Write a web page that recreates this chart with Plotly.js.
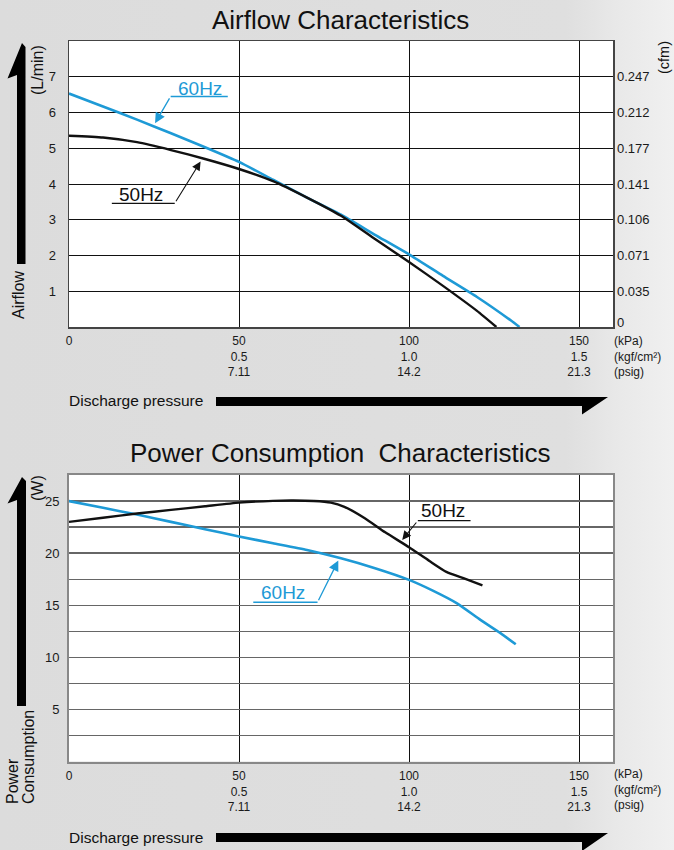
<!DOCTYPE html>
<html><head><meta charset="utf-8">
<script src="https://cdn.plot.ly/plotly-3.0.1.min.js"></script>
<style>
html,body{margin:0;padding:0;width:674px;height:850px;overflow:hidden;
background:linear-gradient(90deg,#dcdcdc 0%,#dfdfdf 84%,#e9e9e9 92%,#f0f0f0 100%);}
#chart{width:674px;height:850px;}
</style>
</head><body><div id="chart"></div><script>
// ---- data ----
const pressureTicks = [0, 50, 100, 150];
const pressureTickText = ["0", "50<br>0.5<br>7.11", "100<br>1.0<br>14.2", "150<br>1.5<br>21.3"];
const pressureUnits = "(kPa)<br>(kgf/cm²)<br>(psig)";

const airflowTicks = [1, 2, 3, 4, 5, 6, 7];
const cfmTicks = [0.12, 1, 2, 3, 4, 5, 6, 7];
const cfmTickText = ["0", "0.035", "0.071", "0.106", "0.141", "0.177", "0.212", "0.247"];

const airflowX50 = [0, 10, 20, 30, 40, 50, 60, 70, 80, 90, 100, 110, 120, 125.7];
const airflow50  = [5.35, 5.30, 5.17, 4.95, 4.70, 4.42, 4.08, 3.62, 3.11, 2.46, 1.82, 1.15, 0.45, 0];
const airflowX60 = [0, 10, 20, 30, 40, 50, 60, 70, 80, 90, 100, 110, 120, 130, 132.5];
const airflow60  = [6.53, 6.17, 5.80, 5.42, 5.03, 4.62, 4.12, 3.62, 3.14, 2.58, 2.03, 1.43, 0.84, 0.18, 0];

const powerTicks = [2.5, 5, 7.5, 10, 12.5, 15, 17.5, 20, 22.5, 25];
const powerTickText = ["", "5", "", "10", "", "15", "", "20", "", "25"];
const powerX50 = [0, 10, 20, 30, 40, 50, 60, 66, 72, 77, 81, 87, 93, 100, 106, 111, 116, 121.6];
const power50  = [23.0, 23.4, 23.8, 24.15, 24.5, 24.85, 25.02, 25.05, 25.0, 24.85, 24.45, 23.35, 22.0, 20.57, 19.25, 18.2, 17.6, 16.9];
const powerX60 = [0, 10, 20, 30, 40, 50, 60, 70, 80, 90, 100, 107, 114, 121, 127, 131.4];
const power60  = [25.0, 24.35, 23.7, 23.0, 22.3, 21.6, 20.95, 20.3, 19.5, 18.55, 17.43, 16.4, 15.2, 13.6, 12.3, 11.25];

const BLUE = "#1e9ad6";
const BLACK = "#111111";
const FONT = "Liberation Sans, Arial, sans-serif";

// ---- helpers for page-pixel decorations ----
const W = 674, H = 850;
const fx = x => x / W, fy = y => 1 - y / H;
function pathOf(pts) {
  return "M" + pts.map(p => fx(p[0]).toFixed(5) + "," + fy(p[1]).toFixed(5)).join(" L") + " Z";
}

const traces = [
  {x: airflowX60, y: airflow60, xaxis: "x", yaxis: "y", mode: "lines",
   line: {color: BLUE, width: 2.6, shape: "spline", smoothing: 0.5}, hoverinfo: "skip"},
  {x: airflowX50, y: airflow50, xaxis: "x", yaxis: "y", mode: "lines",
   line: {color: BLACK, width: 2.4, shape: "spline", smoothing: 0.5}, hoverinfo: "skip"},
  {x: [0], y: [0], xaxis: "x", yaxis: "y3", mode: "markers", opacity: 0, hoverinfo: "skip"},
  {x: powerX60, y: power60, xaxis: "x2", yaxis: "y2", mode: "lines",
   line: {color: BLUE, width: 2.6, shape: "spline", smoothing: 0.5}, hoverinfo: "skip"},
  {x: powerX50, y: power50, xaxis: "x2", yaxis: "y2", mode: "lines",
   line: {color: BLACK, width: 2.4, shape: "spline", smoothing: 0.5}, hoverinfo: "skip"}
];

const xDom = [69 / W, 613 / W];
const tickFont = {family: FONT, size: 12, color: "#1a1a1a"};

const layout = {
  width: W, height: H,
  margin: {l: 0, r: 0, t: 0, b: 0},
  paper_bgcolor: "rgba(0,0,0,0)",
  plot_bgcolor: "#ffffff",
  showlegend: false,
  font: {family: FONT},
  xaxis: {domain: xDom, anchor: "y", range: [0, 160], tickvals: pressureTicks, ticktext: pressureTickText,
    showgrid: true, gridcolor: "#111", gridwidth: 1, zeroline: false,
    showline: true, mirror: true, linecolor: "#444", linewidth: 1.5,
    ticks: "", ticklabelstandoff: 2, tickfont: tickFont},
  yaxis: {domain: [1 - 327 / H, 1 - 41 / H], anchor: "x", range: [0, 8], tickvals: airflowTicks,
    showgrid: true, gridcolor: "#111", gridwidth: 1, zeroline: false,
    showline: true, mirror: true, linecolor: "#444", linewidth: 1.5,
    ticks: "", ticklabelstandoff: 9, tickfont: {family: FONT, size: 13, color: "#1a1a1a"}},
  yaxis3: {overlaying: "y", side: "right", anchor: "x", range: [0, 8], tickvals: cfmTicks, ticktext: cfmTickText,
    showgrid: false, zeroline: false, showline: false, ticks: "", ticklabelstandoff: 3,
    tickfont: {family: FONT, size: 13, color: "#1a1a1a"}},
  xaxis2: {domain: xDom, anchor: "y2", range: [0, 160], tickvals: pressureTicks, ticktext: pressureTickText,
    showgrid: true, gridcolor: "#111", gridwidth: 1, zeroline: false,
    showline: true, mirror: true, linecolor: "#888", linewidth: 2,
    ticks: "", ticklabelstandoff: 2, tickfont: tickFont},
  yaxis2: {domain: [1 - 761.5 / H, 1 - 475 / H], anchor: "x2", range: [0, 27.5], tickvals: powerTicks, ticktext: powerTickText,
    showgrid: true, gridcolor: "#666", gridwidth: 1.3, zeroline: false,
    showline: true, mirror: true, linecolor: "#888", linewidth: 2,
    ticks: "", ticklabelstandoff: 5, tickfont: {family: FONT, size: 13, color: "#1a1a1a"}},
  shapes: [
    // underlines of curve labels
    {type: "line", xref: "x", yref: "y", x0: 29.9, x1: 46.7, y0: 6.45, y1: 6.45, line: {color: BLUE, width: 1.5}},
    {type: "line", xref: "x", yref: "y", x0: 12.6, x1: 31.1, y0: 3.46, y1: 3.46, line: {color: BLACK, width: 1.3}},
    {type: "line", xref: "x2", yref: "y2", x0: 102.6, x1: 118.1, y0: 23.12, y1: 23.12, line: {color: BLACK, width: 1.3}},
    {type: "line", xref: "x2", yref: "y2", x0: 54.2, x1: 73.1, y0: 15.28, y1: 15.28, line: {color: BLUE, width: 1.5}},
    // big axis arrows
    {type: "path", xref: "paper", yref: "paper", line: {width: 0}, fillcolor: "#000",
     path: pathOf([[22, 43], [25.5, 47], [25.5, 264], [17, 264], [17, 75], [7.5, 78.5]])},
    {type: "path", xref: "paper", yref: "paper", line: {width: 0}, fillcolor: "#000",
     path: pathOf([[22, 477], [26, 481], [26, 706], [17, 706], [17, 500], [7.5, 503.5]])},
    {type: "path", xref: "paper", yref: "paper", line: {width: 0}, fillcolor: "#000",
     path: pathOf([[216, 397], [608, 397], [582, 414.5], [582, 406], [216, 406]])},
    {type: "path", xref: "paper", yref: "paper", line: {width: 0}, fillcolor: "#000",
     path: pathOf([[216, 833], [608, 833], [582, 851], [582, 842], [216, 842]])}
  ],
  annotations: [
    {text: "Airflow Characteristics", xref: "paper", yref: "paper", x: fx(340), y: fy(20),
     xanchor: "center", yanchor: "middle", showarrow: false, font: {family: FONT, size: 26, color: "#111"}},
    {text: "Power Consumption  Characteristics", xref: "paper", yref: "paper", x: fx(340), y: fy(453),
     xanchor: "center", yanchor: "middle", showarrow: false, font: {family: FONT, size: 26, color: "#111"}},
    // curve labels
    {text: "60Hz", xref: "x", yref: "y", x: 38.5, y: 6.67, xanchor: "center", yanchor: "middle", showarrow: false,
     font: {family: FONT, size: 19, color: BLUE}},
    {text: "50Hz", xref: "x", yref: "y", x: 21.2, y: 3.71, xanchor: "center", yanchor: "middle", showarrow: false,
     font: {family: FONT, size: 19, color: BLACK}},
    {text: "50Hz", xref: "x2", yref: "y2", x: 110, y: 24.12, xanchor: "center", yanchor: "middle", showarrow: false,
     font: {family: FONT, size: 19, color: BLACK}},
    {text: "60Hz", xref: "x2", yref: "y2", x: 62.8, y: 16.25, xanchor: "center", yanchor: "middle", showarrow: false,
     font: {family: FONT, size: 19, color: BLUE}},
    // leader arrows
    {text: " ", xref: "x", yref: "y", x: 25.3, y: 5.70, axref: "x", ayref: "y", ax: 29.9, ay: 6.45,
     showarrow: true, arrowhead: 2, arrowsize: 1.6, arrowwidth: 1.3, arrowcolor: BLUE, font: {size: 1}},
    {text: " ", xref: "x", yref: "y", x: 38.7, y: 4.63, axref: "x", ayref: "y", ax: 31.1, ay: 3.46,
     showarrow: true, arrowhead: 2, arrowsize: 1.6, arrowwidth: 1.1, arrowcolor: BLACK, font: {size: 1}},
    {text: " ", xref: "x2", yref: "y2", x: 98.0, y: 21.27, axref: "x2", ayref: "y2", ax: 102.6, ay: 23.12,
     showarrow: true, arrowhead: 2, arrowsize: 1.6, arrowwidth: 1.1, arrowcolor: BLACK, font: {size: 1}},
    {text: " ", xref: "x2", yref: "y2", x: 79.2, y: 19.3, axref: "x2", ayref: "y2", ax: 73.1, ay: 15.28,
     showarrow: true, arrowhead: 2, arrowsize: 1.6, arrowwidth: 1.3, arrowcolor: BLUE, font: {size: 1}},
    // axis unit labels
    {text: pressureUnits, xref: "paper", yref: "paper", x: fx(612), y: fy(332), xanchor: "left", yanchor: "top",
     align: "left", showarrow: false, font: tickFont},
    {text: pressureUnits, xref: "paper", yref: "paper", x: fx(612), y: fy(765), xanchor: "left", yanchor: "top",
     align: "left", showarrow: false, font: tickFont},
    {text: "Discharge pressure", xref: "paper", yref: "paper", x: fx(67), y: fy(400), xanchor: "left", yanchor: "middle",
     showarrow: false, font: {family: FONT, size: 15.5, color: "#111"}},
    {text: "Discharge pressure", xref: "paper", yref: "paper", x: fx(67), y: fy(837), xanchor: "left", yanchor: "middle",
     showarrow: false, font: {family: FONT, size: 15.5, color: "#111"}},
    {text: "(L/min)", xref: "paper", yref: "paper", x: fx(37), y: fy(70), xanchor: "center", yanchor: "middle",
     textangle: -90, showarrow: false, font: {family: FONT, size: 16, color: "#111"}},
    {text: "Airflow", xref: "paper", yref: "paper", x: fx(18), y: fy(295), xanchor: "center", yanchor: "middle",
     textangle: -90, showarrow: false, font: {family: FONT, size: 16, color: "#111"}},
    {text: "(cfm)", xref: "paper", yref: "paper", x: fx(664), y: fy(58), xanchor: "center", yanchor: "middle",
     textangle: -90, showarrow: false, font: {family: FONT, size: 14.5, color: "#111"}},
    {text: "(W)", xref: "paper", yref: "paper", x: fx(37), y: fy(488), xanchor: "center", yanchor: "middle",
     textangle: -90, showarrow: false, font: {family: FONT, size: 16, color: "#111"}},
    {text: "Power", xref: "paper", yref: "paper", x: fx(12), y: fy(806), xanchor: "center", yanchor: "bottom",
     textangle: -90, showarrow: false, font: {family: FONT, size: 16, color: "#111"}},
    {text: "Consumption", xref: "paper", yref: "paper", x: fx(28), y: fy(806), xanchor: "center", yanchor: "bottom",
     textangle: -90, showarrow: false, font: {family: FONT, size: 16, color: "#111"}}
  ]
};

Plotly.newPlot("chart", traces, layout, {displayModeBar: false, staticPlot: true});
</script></body></html>
